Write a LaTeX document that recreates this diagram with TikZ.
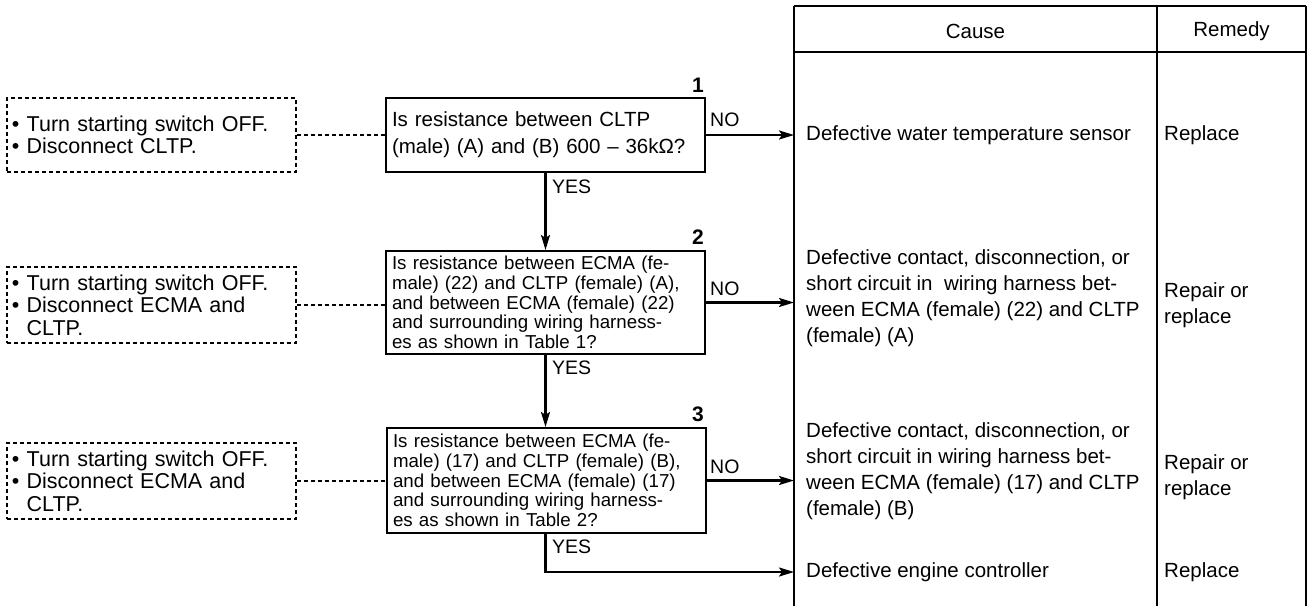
\documentclass[tikz,border=0pt]{standalone}
\usepackage{fontspec}
\setmainfont{Liberation Sans}
\usetikzlibrary{arrows.meta}

\tikzset{
  every node/.style={inner sep=0pt},
  qbox/.style={draw, line width=2.1pt, inner xsep=6pt, inner ysep=0pt,
    text width=307pt, minimum width=319pt, align=left},
  qfont/.style={font=\fontsize{18.7}{19.6}\selectfont},
  prepbox/.style={draw, line width=1.8pt, dash pattern=on 4pt off 3pt,
    inner xsep=5pt, inner ysep=0pt, text width=279pt, minimum width=289pt,
    align=left, font=\fontsize{21.5}{22.5}\selectfont},
  link/.style={line width=1.8pt, dash pattern=on 4pt off 3pt},
  flow/.style={line width=2.1pt, -{Stealth[length=15pt,width=9pt,inset=3pt]}},
  lbl/.style={anchor=west, font=\fontsize{19.5}{22}\selectfont},
  num/.style={font=\bfseries\fontsize{21}{22}\selectfont},
  cell/.style={anchor=west, align=left, font=\fontsize{20.5}{26}\selectfont},
  head/.style={font=\fontsize{20.5}{22}\selectfont},
  rule/.style={line width=2.1pt}
}

\begin{document}
\begin{tikzpicture}[x=1pt, y=-1pt]
\useasboundingbox (0,0) rectangle (1309,606);

% cause / remedy table
\draw[rule] (794,6) -- (1306,6);
\draw[rule] (794,52) -- (1306,52);
\draw[rule] (794,6) -- (794,606);
\draw[rule] (1157,6) -- (1157,606);
\draw[rule] (1306,6) -- (1306,606);
\node[head] (hcause) at (975.5,31) {Cause};
\node[head] (hremedy) at (1231.5,31) {Remedy};

% arrow end points on the table edge
\coordinate (c1) at (794,135);
\coordinate (c4) at (794,572);

% checks
\node[qbox, minimum height=74pt, font=\fontsize{20.5}{27}\selectfont] (q1) at (545.5,135)
  {Is resistance between CLTP\\(male) (A) and (B) 600 – 36kΩ?};
\node[qbox, qfont, minimum height=103pt] (q2) at (545.5,302.5)
  {Is resistance between ECMA (fe-\\male) (22) and CLTP (female) (A),\\and between ECMA (female) (22)\\and surrounding wiring harness-\\es as shown in Table 1?};
\node[qbox, qfont, minimum height=105pt] (q3) at (546.5,480.5)
  {Is resistance between ECMA (fe-\\male) (17) and CLTP (female) (B),\\and between ECMA (female) (17)\\and surrounding wiring harness-\\es as shown in Table 2?};

\node[num] (n1) at (698,85) {1};
\node[num] (n2) at (698,237) {2};
\node[num] (n3) at (698,414) {3};

% preparation steps
\node[prepbox, minimum height=74pt] (p1) at (151.5,135)
  {• Turn starting switch OFF.\\• Disconnect CLTP.};
\node[prepbox, minimum height=76pt] (p2) at (151.5,305)
  {• Turn starting switch OFF.\\• Disconnect ECMA and\\\hphantom{• }CLTP.};
\node[prepbox, minimum height=76pt] (p3) at (151.5,481)
  {• Turn starting switch OFF.\\• Disconnect ECMA and\\\hphantom{• }CLTP.};

\draw[link] (p1.east) -- (p1.east -| q1.west);
\draw[link] (p2.east) -- (p2.east -| q2.west);
\draw[link] (p3.east) -- (p3.east -| q3.west);

% flow
\draw[flow] (q1.east) -- (c1);
\draw[flow] (q2.east) -- (q2.east -| c1);
\draw[flow] (q3.east) -- (q3.east -| c1);
\draw[flow] (q1.south) -- (q2.north);
\draw[flow] (q2.south) -- (q2.south |- q3.north);
\draw[flow] (q2.south |- q3.south) -- (q2.south |- c4) -- (c4);

\node[lbl] (no1) at (710,120) {NO};
\node[lbl] (no2) at (710,289) {NO};
\node[lbl] (no3) at (710,467) {NO};
\node[lbl] (yes1) at (552,187) {YES};
\node[lbl] (yes2) at (552,368) {YES};
\node[lbl] (yes3) at (552,547) {YES};

% causes
\node[cell] (r1) at (806,135) {Defective water temperature sensor};
\node[cell] (r2) at (806,298.5) {Defective contact, disconnection, or\\short circuit in\ \ wiring harness bet-\\ween ECMA (female) (22) and CLTP\\(female) (A)};
\node[cell] (r3) at (806,471) {Defective contact, disconnection, or\\short circuit in wiring harness bet-\\ween ECMA (female) (17) and CLTP\\(female) (B)};
\node[cell] (r4) at (806,572) {Defective engine controller};

% remedies
\node[cell] (m1) at (1164,135) {Replace};
\node[cell] (m2) at (1164,305) {Repair or\\replace};
\node[cell] (m3) at (1164,477.5) {Repair or\\replace};
\node[cell] (m4) at (1164,572) {Replace};
\end{tikzpicture}
\end{document}
